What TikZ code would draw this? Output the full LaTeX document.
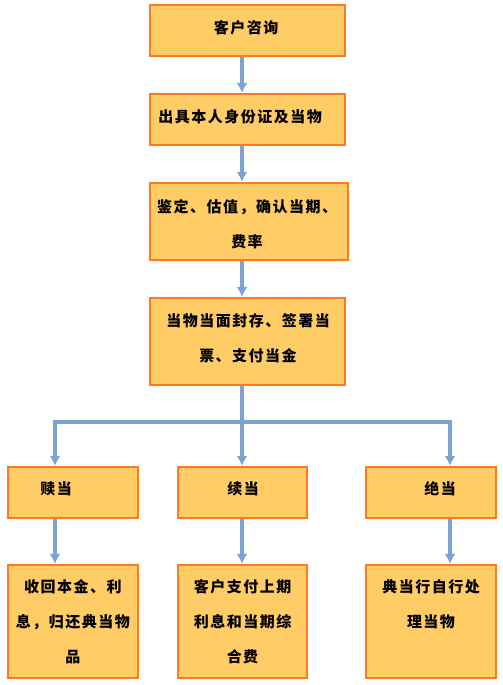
\documentclass[tikz,border=0pt]{standalone}
\usepackage{fontspec}
\usepackage{tikz}
\usetikzlibrary{calc, arrows.meta}
\newfontfamily\cjk[LetterSpace=10]{Noto Sans CJK SC}
\definecolor{BoxFill}{HTML}{FFCC66}
\definecolor{BoxLine}{HTML}{FF7A1F}
\definecolor{LinkBlue}{HTML}{7BA4D2}

\begin{document}
\begin{tikzpicture}[x=1pt, y=-1pt, >={Latex[length=10pt, width=11pt]},
    box/.style={fill=BoxFill, draw=BoxLine, line width=2.2pt, inner sep=0pt},
    words/.style={align=center, inner sep=0pt,
        font=\cjk\bfseries\fontsize{15}{35}\selectfont},
    link/.style={draw=LinkBlue, line width=3.2pt}]

    \useasboundingbox (0,0) rectangle (503,685);

        \begin{scope}
            \node[box, minimum width=195pt, minimum height=51pt]
                (Ask) at (247.5,30.5) {};
            \node[words] (AskText) at ($(Ask)+(-1.5,-3)$) {客户咨询};

            \node[box, minimum width=195pt, minimum height=51pt]
                (Papers) at (247.5,119.5) {};
            \node[words] (PapersText) at ($(Papers)+(-7.5,-2.5)$)
                {出具本人身份证及当物};

            \node[box, minimum width=198pt, minimum height=77pt]
                (Appraise) at (249,221.5) {};
            \node[words] (AppraiseText) at ($(Appraise)+(-2,2.5)$)
                {鉴定、估值，确认当期、\\费率};

            \node[box, minimum width=195pt, minimum height=87pt]
                (Seal) at (247.5,341.5) {};
            \node[words] (SealText) at ($(Seal)+(0.5,-3.5)$)
                {当物当面封存、签署当\\票、支付当金};
        \end{scope}

        \begin{scope}
            \node[box, minimum width=130pt, minimum height=51pt]
                (Redeem) at (73,492.5) {};
            \node[words] (RedeemText) at ($(Redeem)+(-17,-3.5)$) {赎当};

            \node[box, minimum width=129pt, minimum height=51pt]
                (Renew) at (242.5,492.5) {};
            \node[words] (RenewText) at ($(Renew)+(0.5,-3.5)$) {续当};

            \node[box, minimum width=130pt, minimum height=51pt]
                (Forfeit) at (431,492.5) {};
            \node[words] (ForfeitText) at ($(Forfeit)+(9,-3.5)$) {绝当};
        \end{scope}

        \begin{scope}
            \node[box, minimum width=130pt, minimum height=113pt]
                (Refund) at (73,621.5) {};
            \node[words] (RefundText) at ($(Refund)+(0,0.5)$)
                {收回本金、利\\息，归还典当物\\品};

            \node[box, minimum width=129pt, minimum height=113pt]
                (PayFee) at (242.5,621.5) {};
            \node[words] (PayFeeText) at ($(PayFee)+(0,0.5)$)
                {客户支付上期\\利息和当期综\\合费};

            \node[box, minimum width=130pt, minimum height=113pt]
                (Dispose) at (431,621.5) {};
            \node[words] (DisposeText) at ($(Dispose)+(0,-17)$)
                {典当行自行处\\理当物};
        \end{scope}

        \coordinate (trunk) at (242,0);
        \coordinate (leftleg) at (55,0);
        \coordinate (rightleg) at (450,0);
        \coordinate (Split) at (242,422);

        \draw[link, ->] (Ask.south -| trunk) -- (Papers.north -| trunk);
        \draw[link, ->] (Papers.south -| trunk) -- (Appraise.north -| trunk);
        \draw[link, ->] (Appraise.south -| trunk) -- (Seal.north -| trunk);

        \draw[link] (Seal.south -| trunk) -- (Split);
        \draw[link, ->] (Split) -| (Redeem.north -| leftleg);
        \draw[link, ->] (Split) -- (Renew.north -| trunk);
        \draw[link, ->] (Split) -| (Forfeit.north -| rightleg);

        \draw[link, ->] (Redeem.south -| leftleg) -- (Refund.north -| leftleg);
        \draw[link, ->] (Renew.south -| trunk) -- (PayFee.north -| trunk);
        \draw[link, ->] (Forfeit.south -| rightleg)
            -- (Dispose.north -| rightleg);

    \end{tikzpicture}
\end{document}
